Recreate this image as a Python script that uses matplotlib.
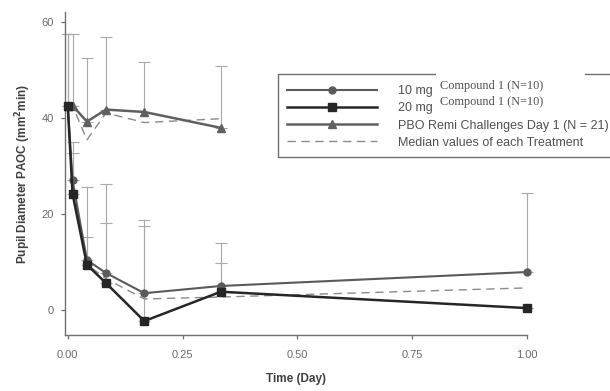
import matplotlib
matplotlib.use("Agg")
import matplotlib.pyplot as plt
import numpy as np
from matplotlib.lines import Line2D
from matplotlib.patches import Rectangle

plt.rcParams['font.family'] = ['Liberation Sans', 'DejaVu Sans']

times = [0.0, 0.0104, 0.0417, 0.0833, 0.1667, 0.3333, 1.0]
mg10 = [42.5, 27.0, 10.4, 7.7, 3.5, 5.0, 7.9]
mg10_upper = [57.5, 35.0, 25.6, 26.2, 18.7, 14.0, 24.4]
mg20 = [42.5, 24.2, 9.4, 5.6, -2.3, 3.8, 0.4]
mg20_upper = [57.5, 32.7, 15.2, 18.1, 17.5, 9.8, 0.4]
cmp_median = [42.5, 25.5, 9.5, 6.5, 2.3, 2.7, 4.6]

pbo_times = [0.0, 0.0104, 0.0417, 0.0833, 0.1667, 0.3333]
pbo = [42.5, 42.5, 39.2, 41.7, 41.2, 37.9]
pbo_upper = [57.5, 57.5, 52.5, 56.9, 51.7, 50.8]
pbo_median = [42.5, 42.5, 35.4, 41.0, 39.0, 39.8]

xticks = [0.0, 0.25, 0.5, 0.75, 1.0]
xticklabels = ["0.00", "0.25", "0.50", "0.75", "1.00"]
yticks = [0, 20, 40, 60]
legend_labels = ['10 mg', '20 mg', 'PBO Remi Challenges Day 1 (N = 21)',
                 'Median values of each Treatment']
compound_label = 'Compound 1 (N=10)'

W, H = 610, 391
fig = plt.figure(figsize=(W/100, H/100), dpi=100)
ax = fig.add_axes([65/W, 1-335/H, (527-65)/W, (335-12)/H])

ebc = '#a8a8a8'
def errs(vals, upper):
    v = np.array(vals); u = np.array(upper)
    return [np.zeros_like(v), u - v]

for tx, vals, up in [(times, mg10, mg10_upper), (times, mg20, mg20_upper),
                     (pbo_times, pbo, pbo_upper)]:
    eb = ax.errorbar(tx, vals, yerr=errs(vals, up), fmt='none', ecolor=ebc,
                     elinewidth=0.8, capsize=4, capthick=0.8, zorder=1)
    for art in eb.lines[1] + eb.lines[2]:
        art.set_clip_on(False)

ax.plot(times, cmp_median, ls=(0, (6, 4)), color='#8a8a8a', lw=1.0, zorder=2, clip_on=False)
ax.plot(pbo_times, pbo_median, ls=(0, (6, 4)), color='#8a8a8a', lw=1.0, zorder=2)

ax.plot(times, mg10, '-o', color='#5a5a5a', lw=1.5, ms=5, zorder=3, clip_on=False)
ax.plot(times, mg20, '-s', color='#262626', lw=1.8, ms=5.5, zorder=4, clip_on=False)
ax.plot(pbo_times, pbo, '-^', color='#606060', lw=1.8, ms=6, zorder=3, clip_on=False)

ax.set_xlim(-0.006, 1.0)
ax.set_ylim(-5.2, 62)
ax.set_xticks(xticks)
ax.set_xticklabels(xticklabels)
ax.set_yticks(yticks)
for s in ['top', 'right']:
    ax.spines[s].set_visible(False)
for s in ['left', 'bottom']:
    ax.spines[s].set_color('#707070')
    ax.spines[s].set_linewidth(1.0)
ax.tick_params(colors='#707070', labelcolor='#6a6a6a', labelsize=8, length=3, width=0.9)
ax.tick_params(axis='x', pad=8)
ax.tick_params(axis='y', pad=5)
ax.set_xlabel('Time (Day)', fontsize=8.5, fontweight='bold', color='#404040', labelpad=9)
ax.set_ylabel('Pupil Diameter PAOC (mm$^{\\mathbf{2}}$min)', fontsize=8.5, fontweight='bold',
              color='#404040', labelpad=6)

# legend frame (extends beyond right edge like the reference)
fig.add_artist(Rectangle((278/W, 1-157/H), (660-278)/W, (157-74)/H, transform=fig.transFigure,
                         facecolor='white', edgecolor='#707070', lw=1.0, zorder=4))
# gap in the top border
fig.add_artist(Rectangle((436/W, 1-76.5/H), (585-436)/W, 5/H, transform=fig.transFigure,
                         facecolor='white', edgecolor='none', zorder=6))

handles = [
    Line2D([], [], color='#5a5a5a', marker='o', lw=1.5, ms=5),
    Line2D([], [], color='#262626', marker='s', lw=1.8, ms=5.5),
    Line2D([], [], color='#606060', marker='^', lw=1.8, ms=6),
    Line2D([], [], color='#8a8a8a', ls=(0, (6, 4)), lw=1.0),
]
leg = fig.legend(handles, legend_labels, loc='upper left', bbox_to_anchor=(287/W, 1-85/H),
                 frameon=False, fontsize=9, handlelength=7.2,
                 handletextpad=1.7, borderpad=0.0, labelspacing=0.42, borderaxespad=0)
leg.set_zorder(7)
for t in leg.get_texts():
    t.set_color('#505050')

fig.text(440/W, 1-86/H, compound_label, fontsize=8.8, family='Liberation Serif',
         color='#505050', va='center', ha='left', zorder=8)
fig.text(440/W, 1-102/H, compound_label, fontsize=8.8, family='Liberation Serif',
         color='#505050', va='center', ha='left', zorder=8)

fig.savefig('out.png', dpi=100)
